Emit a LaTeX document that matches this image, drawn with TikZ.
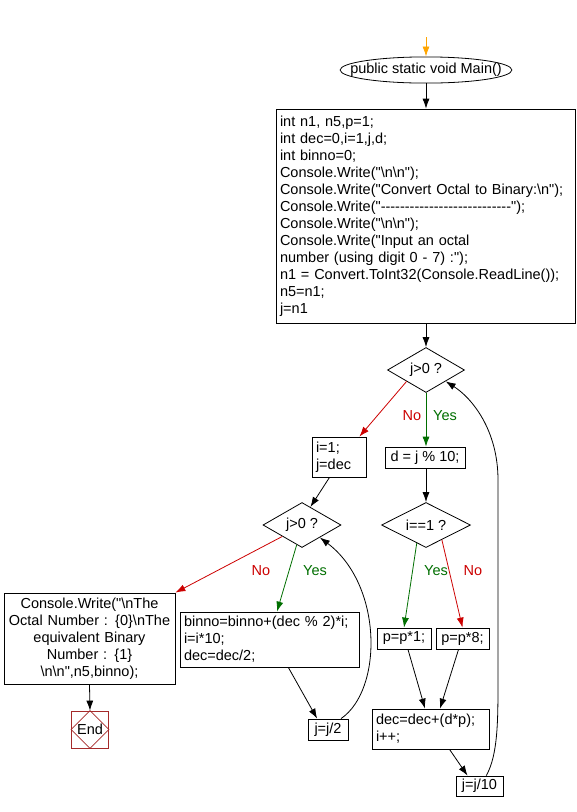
\documentclass[tikz,border=0pt]{standalone}
\usepackage{fontspec}
\setmainfont{Liberation Sans}[Ligatures=TeXOff]
\usetikzlibrary{arrows.meta,shapes.geometric}

\definecolor{yesgreen}{RGB}{0,110,0}
\definecolor{nored}{RGB}{204,0,0}
\definecolor{startorange}{RGB}{255,165,0}
\definecolor{endred}{RGB}{165,42,42}
\newcommand\flowfont{\fontsize{14.5}{17}\selectfont}
\newcommand\bsl{\textbackslash}

\tikzset{
  every node/.style={font=\flowfont},
  terminal/.style={draw, ellipse, inner xsep=-15pt, inner ysep=2.5pt},
  procbox/.style={draw, rectangle, inner xsep=4pt, inner ysep=2pt, align=left},
  smallbox/.style={draw, rectangle, inner sep=0pt, align=center},
  decision/.style={draw, diamond, aspect=2, inner sep=0pt, minimum height=45pt},
  endbox/.style={draw=endred, rectangle, minimum size=37pt, inner sep=0pt},
  flow/.style={-{Latex[length=10pt,width=7pt]}},
  yesflow/.style={flow, yesgreen},
  noflow/.style={flow, nored},
  yeslabel/.style={text=yesgreen},
  nolabel/.style={text=nored},
}

\begin{document}
\begin{tikzpicture}[x=1pt, y=-1pt, line width=0.8pt]
\useasboundingbox (0,0) rectangle (577,812);

% start of Main
\coordinate (entry) at (426,37);
\node[terminal] (main) at (426,70) {public static void Main()};
\node[procbox, text width=291pt, minimum height=214pt] (setup) at (425.5,216)
{int n1, n5,p=1;\\
int dec=0,i=1,j,d;\\
int binno=0;\\
Console.Write("\bsl{}n\bsl{}n");\\
Console.Write("Convert Octal to Binary:\bsl{}n");\\
Console.Write("---------------------------");\\
Console.Write("\bsl{}n\bsl{}n");\\
Console.Write("Input an octal\\
number (using digit 0 - 7) :");\\
n1 = Convert.ToInt32(Console.ReadLine());\\
n5=n1;\\
j=n1};

% octal to decimal loop
\node[decision, minimum width=77pt] (testj) at (426,370) {j>0 ?};
\node[smallbox, minimum width=80pt, minimum height=21pt] (digit) at (425,457.5) {d = j \% 10;};
\node[decision, minimum width=89pt] (testi) at (426,525) {i==1 ?};
\node[smallbox, minimum width=54pt, minimum height=21pt] (mulone) at (404,638.5) {p=p*1;};
\node[smallbox, minimum width=53pt, minimum height=21pt] (muleight) at (462.5,638.5) {p=p*8;};
\node[procbox, text width=109pt, minimum height=40pt] (accum) at (430.5,729) {dec=dec+(d*p);\\i++;};
\node[smallbox, minimum width=47pt, minimum height=20pt] (divten) at (479.5,786) {j=j/10};

% decimal to binary loop
\node[procbox, text width=46pt, minimum height=40pt] (resetdec) at (339,457) {i=1;\\j=dec};
\node[decision, minimum width=78pt] (testdec) at (302,525) {j>0 ?};
\node[procbox, text width=171pt, minimum height=55pt] (binstep) at (269.5,639.5)
{binno=binno+(dec \% 2)*i;\\
i=i*10;\\
dec=dec/2;};
\node[smallbox, minimum width=40pt, minimum height=21pt] (halve) at (328,729.5) {j=j/2};

% output and end
\node[procbox, align=center, text width=163pt, minimum height=91pt] (output) at (89.5,638.5)
{Console.Write("\bsl{}nThe\\
Octal Number : \{0\}\bsl{}nThe\\
equivalent Binary\\
Number : \{1\}\\
\bsl{}n\bsl{}n",n5,binno);};
\node[endbox] (finish) at (90,729.5) {End};
\draw[endred] (finish.north) -- (finish.east) -- (finish.south) -- (finish.west) -- cycle;

% branch labels
\node[nolabel] (noj) at (412,416) {No};
\node[yeslabel] (yesj) at (445,416) {Yes};
\node[nolabel] (nodec) at (261,571) {No};
\node[yeslabel] (yesdec) at (315,571) {Yes};
\node[yeslabel] (yesi) at (436,571) {Yes};
\node[nolabel] (noi) at (473,571) {No};

% arrows
\draw[flow, startorange] (entry) -- (main.north);
\draw[flow] (main.south) -- (main.south |- setup.north);
\draw[flow] (testj.north |- setup.south) -- (testj.north);
\draw[noflow] (testj.south west) -- (resetdec.45);
\draw[yesflow] (testj.south) -- (testj.south |- digit.north);
\draw[flow] (testj.south |- digit.south) -- (testi.north);
\draw[yesflow] (testi.243) -- (mulone.north);
\draw[noflow] (testi.-43) -- (muleight.north);
\draw[flow] (mulone.-70) -- (accum.105);
\draw[flow] (muleight.-110) -- (accum.65);
\draw[flow] (accum.-47) -- (divten.139);
\draw[flow] (divten.57) .. controls (498,755) and (498,720) .. (498,680)
  -- (498,480) .. controls (498,430) and (472,398) .. (testj.-30);

\draw[flow] (resetdec.245) -- (testdec.65);
\draw[noflow] (testdec.south west) -- (output.north east);
\draw[yesflow] (testdec.255) -- (binstep.75);
\draw[flow] (binstep.-56) -- (halve.135);
\draw[flow] (halve.40) .. controls (383,690) and (383,585) .. (testdec.-35);
\draw[flow] (output.south) -- (finish.north);
\end{tikzpicture}
\end{document}
